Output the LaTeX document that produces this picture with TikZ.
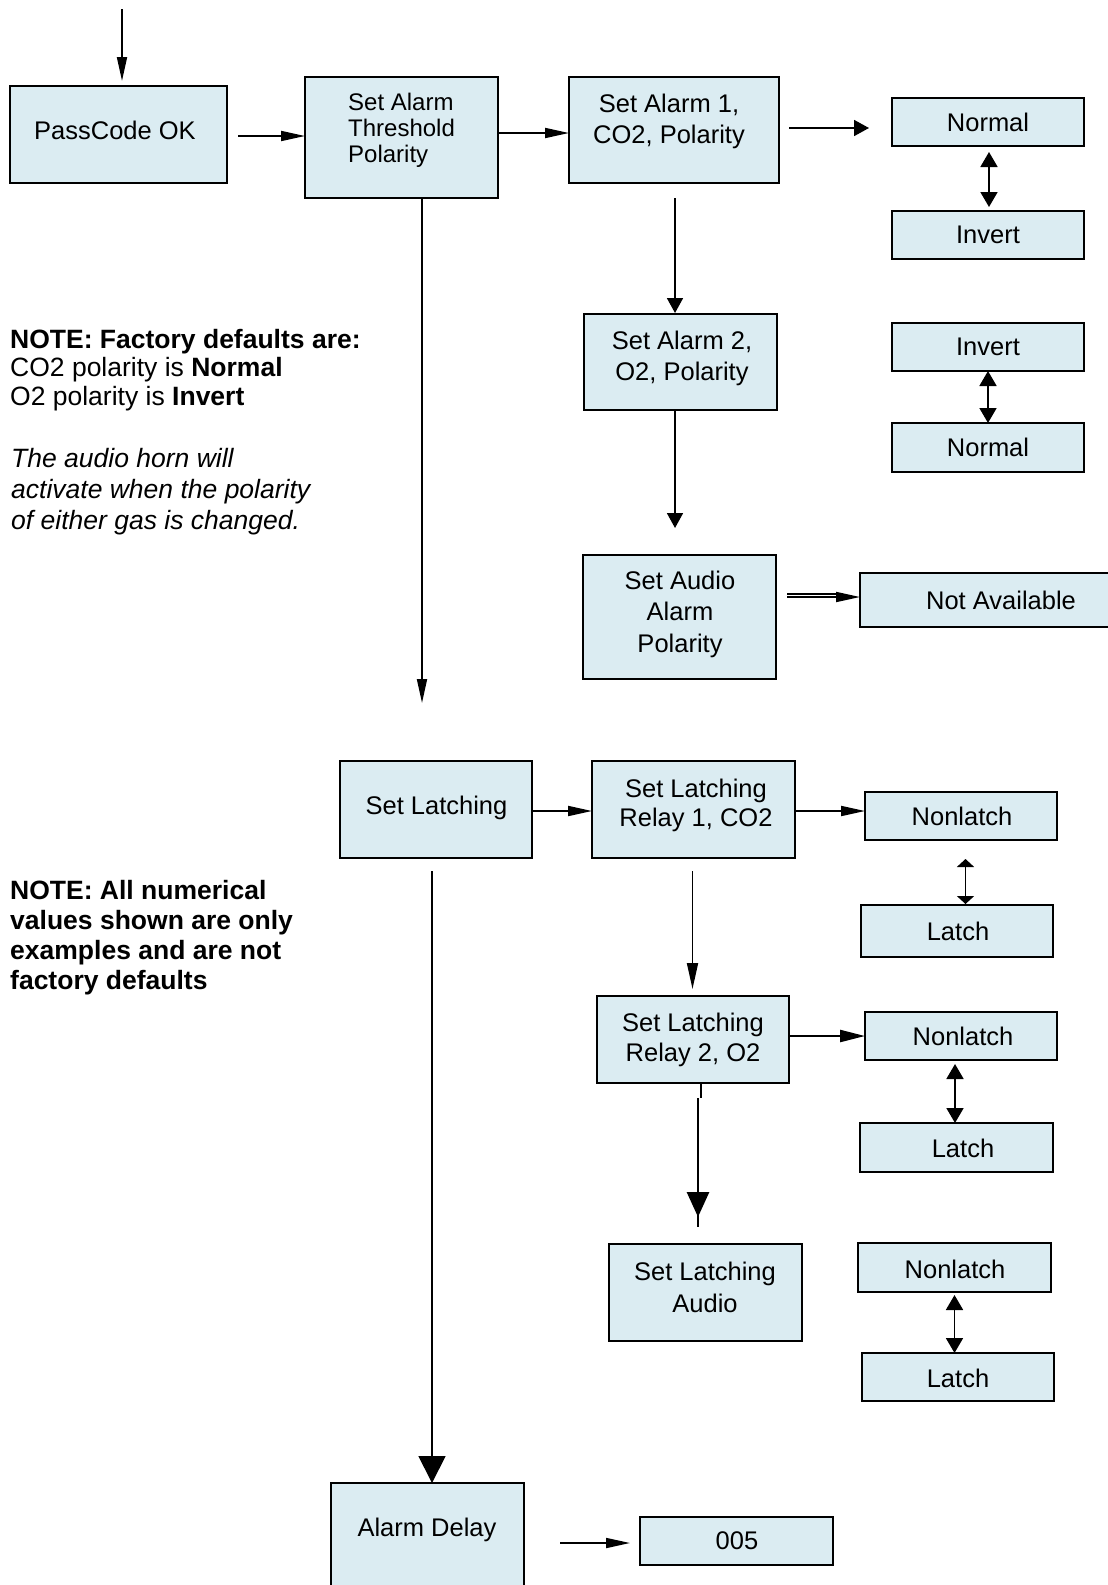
\documentclass[tikz,border=0pt]{standalone}
\usepackage{fontspec}
\setmainfont{Liberation Sans}
\usetikzlibrary{arrows.meta,calc}
\definecolor{boxblue}{RGB}{219,236,242}
\newcommand\myboxfont{\fontsize{25.5}{31}\selectfont}
\newcommand\mynotefont{\fontsize{26.5}{30}\selectfont}
\tikzset{
  box/.style={draw=black, line width=1.8pt, fill=boxblue, inner sep=0pt, outer sep=0pt},
  txt/.style={font=\myboxfont, align=center, inner sep=0pt},
  note/.style={font=\mynotefont, anchor=base west, inner sep=0pt},
  ln/.style={line width=1.8pt},
  arr/.style={ln, -{Triangle[length=24pt,width=10pt]}},
  tri/.style={ln, -{Triangle[length=15pt,width=16pt]}},
  dbl/.style={ln, {Triangle[length=15pt,width=17pt]}-{Triangle[length=15pt,width=17pt]}},
  dblflat/.style={ln, {Triangle[length=8pt,width=17pt]}-{Triangle[length=8pt,width=17pt]}},
  bighead/.style={line width=1.8pt, -{Triangle[length=27pt,width=27pt]}},
}
\begin{document}
\begin{tikzpicture}[x=1pt,y=-1pt]
\useasboundingbox (0,0) rectangle (1108,1585);
\fill[white] (0,0) rectangle (1108,1585);
\clip (0,0) rectangle (1108,1585);

% boxes
\node[box, minimum width=217pt, minimum height=97pt] (pc) at (118.5,134.5) {};
\node[box, minimum width=193pt, minimum height=121pt] (sat) at (401.5,137.5) {};
\node[box, minimum width=210pt, minimum height=106pt] (sa1) at (674,130) {};
\node[box, minimum width=192pt, minimum height=48pt] (n1) at (988,122) {};
\node[box, minimum width=192pt, minimum height=48pt] (i1) at (988,235) {};
\node[box, minimum width=193pt, minimum height=96pt] (sa2) at (680.5,362) {};
\node[box, minimum width=192pt, minimum height=48pt] (i2) at (988,347) {};
\node[box, minimum width=192pt, minimum height=49pt] (n2) at (988,447.5) {};
\node[box, minimum width=193pt, minimum height=124pt] (saap) at (679.5,617) {};
\node[box, minimum width=255pt, minimum height=54pt] (na) at (987.5,600) {};
\node[box, minimum width=192pt, minimum height=97pt] (sl) at (436,809.5) {};
\node[box, minimum width=203pt, minimum height=97pt] (slr1) at (693.5,809.5) {};
\node[box, minimum width=192pt, minimum height=48pt] (nl1) at (961,816) {};
\node[box, minimum width=192pt, minimum height=52pt] (l1) at (957,931) {};
\node[box, minimum width=192pt, minimum height=87pt] (slr2) at (693,1039.5) {};
\node[box, minimum width=192pt, minimum height=48pt] (nl2) at (961,1036) {};
\node[box, minimum width=193pt, minimum height=49pt] (l2) at (956.5,1147.5) {};
\node[box, minimum width=193pt, minimum height=97pt] (sla) at (705.5,1292.5) {};
\node[box, minimum width=193pt, minimum height=49pt] (nl3) at (954.5,1267.5) {};
\node[box, minimum width=192pt, minimum height=48pt] (l3) at (958,1377) {};
\node[box, minimum width=193pt, minimum height=117pt] (ad) at (427.5,1541.5) {};
\node[box, minimum width=193pt, minimum height=48pt] (v005) at (736.5,1541) {};

% box texts
\node[txt] (tpc) at (115,130) {PassCode OK};
\node[txt, anchor=west, align=left, font=\fontsize{24}{26}\selectfont] (tsat) at (348,130.5) {Set Alarm\\Threshold\\Polarity};
\node[txt] (tsa1) at (669,121) {Set Alarm 1,\\CO2, Polarity};
\node[txt] (tn1) at (988,122) {Normal};
\node[txt] (ti1) at (988,235) {Invert};
\node[txt] (tsa2) at (682,358) {Set Alarm 2,\\ O2, Polarity};
\node[txt] (ti2) at (988,347) {Invert};
\node[txt] (tn2) at (988,447.5) {Normal};
\node[txt, font=\fontsize{25.5}{31.5}\selectfont] (tsaap) at (680,614) {Set Audio\\Alarm\\Polarity};
\node[txt] (tna) at (1001,600) {Not Available};
\node[txt] (tsl) at (436.5,807.5) {Set Latching};
\node[txt, font=\fontsize{25.5}{29}\selectfont] (tslr1) at (696,805) {Set Latching\\Relay 1, CO2};
\node[txt] (tnl1) at (962,816) {Nonlatch};
\node[txt] (tl1) at (958,931) {Latch};
\node[txt, font=\fontsize{25.5}{30}\selectfont] (tslr2) at (693,1040) {Set Latching\\Relay 2, O2};
\node[txt] (tnl2) at (963,1036) {Nonlatch};
\node[txt] (tl2) at (963,1148) {Latch};
\node[txt, font=\fontsize{25.5}{32}\selectfont] (tsla) at (705,1287) {Set Latching\\Audio};
\node[txt] (tnl3) at (955,1269) {Nonlatch};
\node[txt] (tl3) at (958,1378) {Latch};
\node[txt] (tad) at (427,1530) {Alarm Delay};
\node[txt] (t005) at (737,1541) {005};

% notes
\node[note] (na1) at (10,348) {\bfseries NOTE: Factory defaults are:};
\node[note] (na2) at (10,376) {CO2 polarity is \textbf{Normal}};
\node[note] (na3) at (10,405) {O2 polarity is \textbf{Invert}};
\node[note] (nb1) at (11,467) {\itshape The audio horn will};
\node[note] (nb2) at (11,498) {\itshape activate when the polarity};
\node[note] (nb3) at (11,529) {\itshape of either gas is changed.};
\node[note] (nc1) at (10,899) {\bfseries NOTE: All numerical};
\node[note] (nc2) at (10,929) {\bfseries values shown are only};
\node[note] (nc3) at (10,959) {\bfseries examples and are not};
\node[note] (nc4) at (10,989) {\bfseries factory defaults};

% connectors
\coordinate (start) at (122,9);
\draw[arr, shorten >=5pt] (start) -- (start |- pc.north);
\draw[arr, shorten <=11pt] ([yshift=-1.5pt]pc.east) -- ([yshift=-1.5pt]pc.east -| sat.west);
\draw[arr] ([yshift=4.5pt]sat.east) -- ([yshift=4.5pt]sat.east -| sa1.west);
\draw[tri, shorten <=10pt, shorten >=23pt] ([yshift=2pt]sa1.east) -- ([yshift=2pt]sa1.east -| n1.west);
\draw[dbl, shorten <=6pt, shorten >=4pt] ([xshift=1pt]n1.south) -- ([xshift=1pt]i1.north);
\draw[tri, shorten <=15pt, shorten >=1pt] ([xshift=1pt]sa1.south) -- ([xshift=1pt]sa1.south |- sa2.north);
\draw[dbl] (i2.south) -- (n2.north);
\draw[tri, shorten >=27pt] ([xshift=-5.5pt]sa2.south) -- ([xshift=-5.5pt]sa2.south |- saap.north);
\draw[arr, shorten <=11pt] ([yshift=20pt]saap.east) -- ([yshift=20pt]saap.east -| na.west);
\draw[ln, shorten <=11pt, shorten >=18pt] ([yshift=23pt]saap.east) -- ([yshift=23pt]saap.east -| na.west);
\coordinate (satend) at (422,703);
\draw[arr] ([xshift=20.5pt]sat.south) -- (satend);

\draw[arr] ([yshift=-1.5pt]sl.east) -- ([yshift=-1.5pt]sl.east -| slr1.west);
\draw[arr] ([yshift=-1.5pt]slr1.east) -- ([yshift=-1.5pt]slr1.east -| nl1.west);
\draw[dblflat, shorten <=19pt, shorten >=1pt] ([xshift=4.5pt]nl1.south) -- ([xshift=4.5pt]nl1.south |- l1.north);
\draw[ln, -{Triangle[length=26pt,width=11pt]}, shorten <=13pt, shorten >=7pt] ([xshift=-1pt]slr1.south) -- ([xshift=-1pt]slr1.south |- slr2.north);
\draw[line width=2.4pt, -{Triangle[length=25pt,width=12pt]}] (nl2.west -| slr2.east) -- (nl2.west);
\draw[dbl, shorten <=4pt] ([xshift=-6pt]nl2.south) -- ([xshift=-6pt]nl2.south |- l2.north);
\coordinate (q1) at (698,1098);
\coordinate (q2) at (698,1227);
\coordinate (q3) at (698,1217);
\draw[ln] ([xshift=8pt]slr2.south) -- ([xshift=8pt]slr2.south |- q1);
\draw[line width=2.8pt] (q1) -- (q2);
\draw[line width=2.8pt, -{Triangle[length=25pt,width=22pt]}] (q1) -- (q3);
\draw[dbl, shorten <=3pt] (nl3.south) -- (nl3.south |- l3.north);
\draw[bighead, shorten <=13pt] ([xshift=-4pt]sl.south) -- ([xshift=-4pt]sl.south |- ad.north);
\draw[arr, shorten <=36pt, shorten >=10pt] ([yshift=-1.5pt]ad.east) -- ([yshift=-1.5pt]ad.east -| v005.west);
\end{tikzpicture}
\end{document}
